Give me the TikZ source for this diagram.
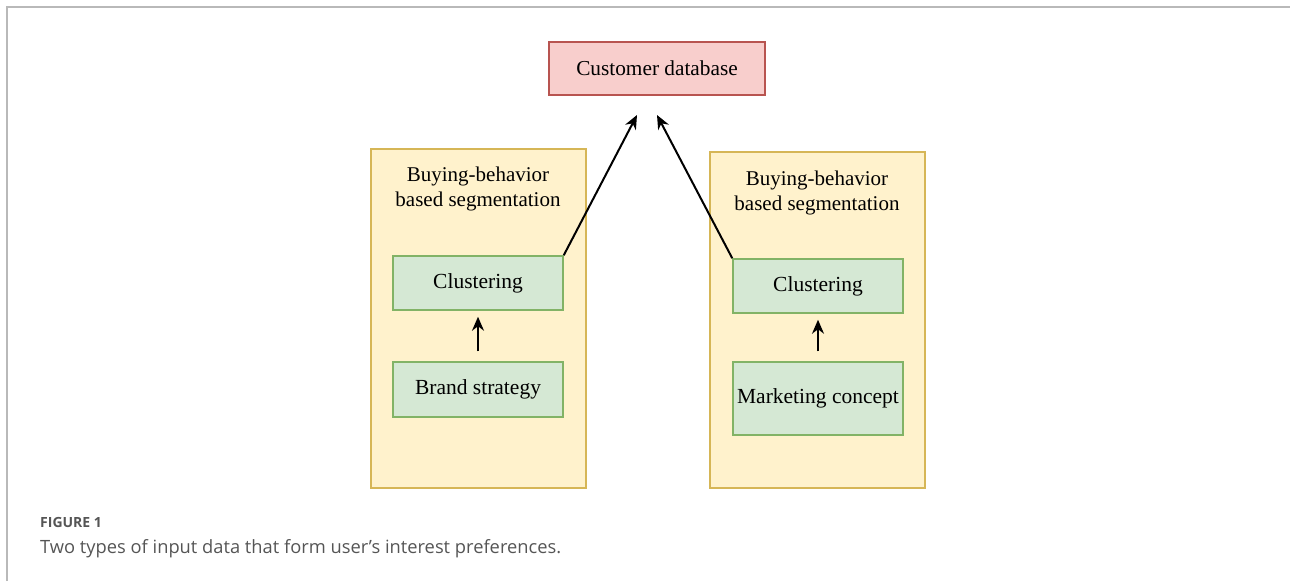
\documentclass[tikz,border=0pt]{standalone}
\usepackage{fontspec}
\setmainfont{Liberation Serif}
\newfontfamily\capfont{Open Sans}
\usetikzlibrary{arrows.meta}
\definecolor{pinkfill}{HTML}{F8CECC}
\definecolor{pinkline}{HTML}{B85450}
\definecolor{yelfill}{HTML}{FFF2CC}
\definecolor{yelline}{HTML}{D6B656}
\definecolor{grnfill}{HTML}{D5E8D4}
\definecolor{grnline}{HTML}{82B366}
\definecolor{capgray}{HTML}{555555}
\tikzset{
  dbbox/.style={draw=pinkline, fill=pinkfill, line width=1.5pt, minimum width=216pt, minimum height=53pt, inner sep=0pt, font=\fontsize{21.3}{25}\selectfont},
  ybox/.style={draw=yelline, fill=yelfill, line width=1.5pt, minimum width=215pt, inner sep=0pt},
  gbox/.style={draw=grnline, fill=grnfill, line width=1.5pt, minimum width=170pt, inner sep=0pt, font=\fontsize{21.5}{25}\selectfont},
  ttl/.style={align=center, inner sep=0pt, font=\fontsize{21}{25}\selectfont},
  arr/.style={-{Stealth[length=14pt,width=12pt]}, line width=2pt},
}
\begin{document}
\begin{tikzpicture}[x=1pt,y=-1pt]
\useasboundingbox (0,0) rectangle (1290,581);
\draw[gray!55, line width=2pt] (7,581) -- (7,7) -- (1290,7);

\node[dbbox] (db) at (657,68.5) {Customer database};

\node[ybox, minimum height=339pt] (ly) at (478.5,318.5) {};
\node[ttl] (lt) at (478,189) {Buying-behavior\\based segmentation};
\node[gbox, minimum height=54pt] (lc) at (478,283) {Clustering};
\node[gbox, minimum height=55pt] (lb) at (478,389.5) {Brand strategy};

\node[ybox, minimum height=336pt] (ry) at (817.5,320) {};
\node[ttl] (rt) at (817,193) {Buying-behavior\\based segmentation};
\node[gbox, minimum height=54pt] (rc) at (818,286) {Clustering};
\node[gbox, minimum height=73pt] (rm) at (818,398.5) {Marketing concept};

\coordinate (la) at (637,115);
\coordinate (ra) at (657,115);
\draw[arr] (lc.north east) -- (la);
\draw[arr] (rc.north west) -- (ra);
\draw[arr] ([yshift=10pt]lb.north) -- ([yshift=-6pt]lc.south);
\draw[arr] ([yshift=10pt]rm.north) -- ([yshift=-6pt]rc.south);

\node[anchor=base west, inner sep=0pt, text=capgray, font=\capfont\fontsize{14}{16}\selectfont\bfseries] (fig) at (40,527) {FIGURE 1};
\node[anchor=base west, inner sep=0pt, text=capgray, font=\capfont\fontsize{18.3}{22}\selectfont] (cap) at (40,553) {Two types of input data that form user’s interest preferences.};
\end{tikzpicture}
\end{document}
